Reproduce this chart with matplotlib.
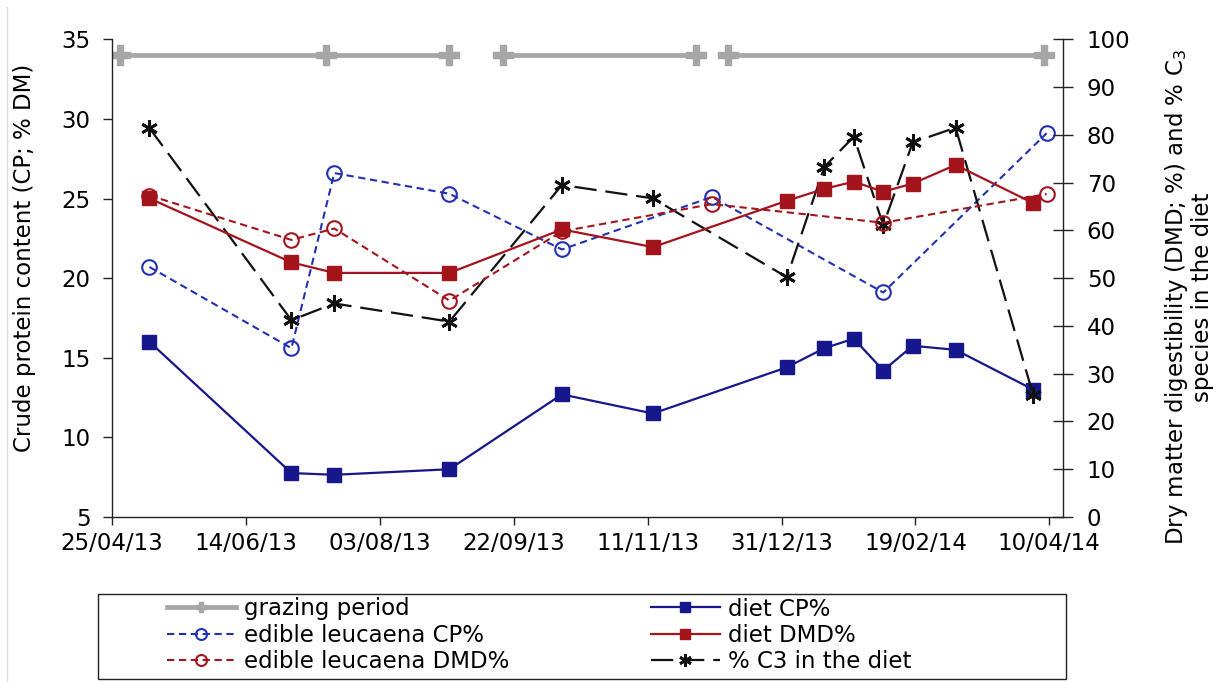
import matplotlib
matplotlib.use("Agg")
import matplotlib.pyplot as plt
import matplotlib.dates as mdates
from matplotlib.patches import Rectangle
from matplotlib.lines import Line2D
import numpy as np
import pandas as pd

plt.rcParams['font.family'] = ['DejaVu Sans']

# ---- data ---------------------------------------------------------------
diet_dates = ["09/05/13", "01/07/13", "17/07/13", "29/08/13", "10/10/13",
              "13/11/13", "02/01/14", "16/01/14", "27/01/14", "07/02/14",
              "18/02/14", "06/03/14", "04/04/14"]
diet_cp = [16.0, 7.76, 7.65, 8.0, 12.7, 11.5, 14.4, 15.6, 16.2, 14.2,
           15.75, 15.5, 13.0]
diet_dmd = [66.7, 53.3, 51.1, 51.1, 60.2, 56.5, 66.2, 68.7, 70.2, 68.1,
            69.8, 73.7, 65.7]
c3_in_diet = [81.4, 41.2, 44.7, 40.9, 69.5, 66.7, 50.2, 73.3, 79.6, 61.1,
              78.4, 81.5, 25.5]

leucaena_dates = ["09/05/13", "01/07/13", "17/07/13", "29/08/13",
                  "10/10/13", "05/12/13", "07/02/14", "09/04/14"]
leucaena_cp = [20.7, 15.6, 26.6, 25.3, 21.8, 25.1, 19.1, 29.1]
leucaena_dmd = [67.3, 58.0, 60.4, 45.3, 59.8, 65.5, 61.6, 67.6]

grazing_dates = ["28/04/13", "14/07/13", "29/08/13", "18/09/13",
                 "29/11/13", "11/12/13", "08/04/14"]
grazing_segment = [0, 0, 0, 1, 1, 2, 2]
grazing_level = 34.0

axis_start = "25/04/13"
tick_step_days = 50
n_ticks = 8
axis_span_days = 355

# ---- helpers -------------------------------------------------------------
def to_num(dates):
    return mdates.date2num(pd.to_datetime(dates, format="%d/%m/%y").to_pydatetime())

x_diet = to_num(diet_dates)
x_leu = to_num(leucaena_dates)
x_graz = to_num(grazing_dates)
x0 = to_num([axis_start])[0]

FS = 16.5
c_diet_cp = '#17178c'
c_leu_cp = '#2230b4'
c_diet_dmd = '#a3141c'
c_leu_dmd = '#a3141c'
c_c3 = '#111111'
c_graz = '#a6a6a6'

fig = plt.figure(figsize=(12.16, 6.82), dpi=100)
ax = fig.add_axes([112 / 1216, 1 - 517 / 682, (1062.7 - 112) / 1216, (517 - 39.3) / 682])
ax2 = ax.twinx()

# grazing periods (left axis)
graz_seg = np.array(grazing_segment)
first = True
for s in np.unique(graz_seg):
    m = graz_seg == s
    ax.plot(x_graz[m], [grazing_level] * m.sum(), color=c_graz, lw=3.4,
            marker='P', ms=15, mec=c_graz, mfc=c_graz, solid_capstyle='butt',
            label='grazing period' if first else None, zorder=2)
    first = False

l_leu_cp, = ax.plot(x_leu, leucaena_cp, color=c_leu_cp, lw=1.5,
                    dashes=(3.5, 2.2), marker='o', ms=10.5, mfc='none',
                    mec=c_leu_cp, mew=1.5, label='edible leucaena CP%', zorder=3)
l_diet_cp, = ax.plot(x_diet, diet_cp, color=c_diet_cp, lw=1.6, marker='s',
                     ms=10.5, mfc=c_diet_cp, mec=c_diet_cp, label='diet CP%',
                     zorder=4)

l_leu_dmd, = ax2.plot(x_leu, leucaena_dmd, color=c_leu_dmd, lw=1.5,
                      dashes=(3.5, 2.2), marker='o', ms=10.5, mfc='none',
                      mec=c_leu_dmd, mew=1.5, label='edible leucaena DMD%',
                      zorder=3)
l_c3, = ax2.plot(x_diet, c3_in_diet, color=c_c3, lw=1.6, dashes=(10, 4),
                 marker=(6, 2, 0), ms=12, mew=2.0, mec=c_c3,
                 label='% C3 in the diet', zorder=2)
l_diet_dmd, = ax2.plot(x_diet, diet_dmd, color=c_diet_dmd, lw=1.6, marker='s',
                       ms=10.5, mfc=c_diet_dmd, mec=c_diet_dmd,
                       label='diet DMD%', zorder=4)

# ---- axes ------------------------------------------------------------------
ax.set_xlim(x0, x0 + axis_span_days)
ax.set_xticks([x0 + tick_step_days * k for k in range(n_ticks)])
ax.xaxis.set_major_formatter(mdates.DateFormatter('%d/%m/%y'))
ax.set_ylim(5, 35)
ax.set_yticks(range(5, 36, 5))
ax2.set_ylim(0, 100)
ax2.set_yticks(range(0, 101, 10))

for a in (ax, ax2):
    a.spines['top'].set_visible(False)
    for sp in a.spines.values():
        sp.set_linewidth(1.0)
        sp.set_color('#222222')
ax.spines['right'].set_visible(False)
ax2.spines['left'].set_visible(False)
ax2.spines['bottom'].set_visible(False)

ax.tick_params(axis='y', direction='out', length=6.5, width=1, pad=9,
               labelsize=FS, colors='#222222', labelcolor='black')
ax.tick_params(axis='x', direction='out', length=6, width=1, pad=5,
               labelsize=FS, colors='#222222', labelcolor='black')
ax2.tick_params(axis='y', direction='inout', length=13.7, width=1, pad=10.5,
                labelsize=FS, colors='#222222', labelcolor='black')

fig.text(25 / 1216, 1 - 258 / 682, 'Crude protein content (CP; % DM)',
         rotation=90, ha='center', va='center', fontsize=FS)
fig.text(1188.5 / 1216, 1 - 297 / 682,
         'Dry matter digestibility (DMD; %) and % C$_3$\nspecies in the diet',
         rotation=90, ha='center', va='center', multialignment='center',
         fontsize=FS, linespacing=1.1)

# ---- legend ------------------------------------------------------------
graz_handle = Line2D([], [], color=c_graz, lw=3.4, marker='P', ms=10,
                     mfc=c_graz, mec=c_graz)
leg_kw = dict(loc='upper left', frameon=False, fontsize=FS, borderpad=0,
              borderaxespad=0, labelspacing=0.15, handlelength=3.0,
              handletextpad=0.35, markerscale=0.75)
leg1 = fig.legend([graz_handle, l_leu_cp, l_leu_dmd],
                  ['grazing period', 'edible leucaena CP%', 'edible leucaena DMD%'],
                  bbox_to_anchor=(167 / 1216, 1 - 597.5 / 682), **leg_kw)
leg2 = fig.legend([l_diet_cp, l_diet_dmd, l_c3],
                  ['diet CP%', 'diet DMD%', '% C3 in the diet'],
                  bbox_to_anchor=(651 / 1216, 1 - 597.5 / 682), **leg_kw)
fig.add_artist(Rectangle((98 / 1216, 1 - 679 / 682), 968 / 1216, 85 / 682,
                         transform=fig.transFigure, fill=False,
                         edgecolor='#222222', lw=1.0))
fig.add_artist(Line2D([7 / 1216, 7 / 1216], [0, 1 - 7 / 682],
                      transform=fig.transFigure, color='#dcdcdc', lw=1.0))

fig.savefig('out.png', dpi=100)
